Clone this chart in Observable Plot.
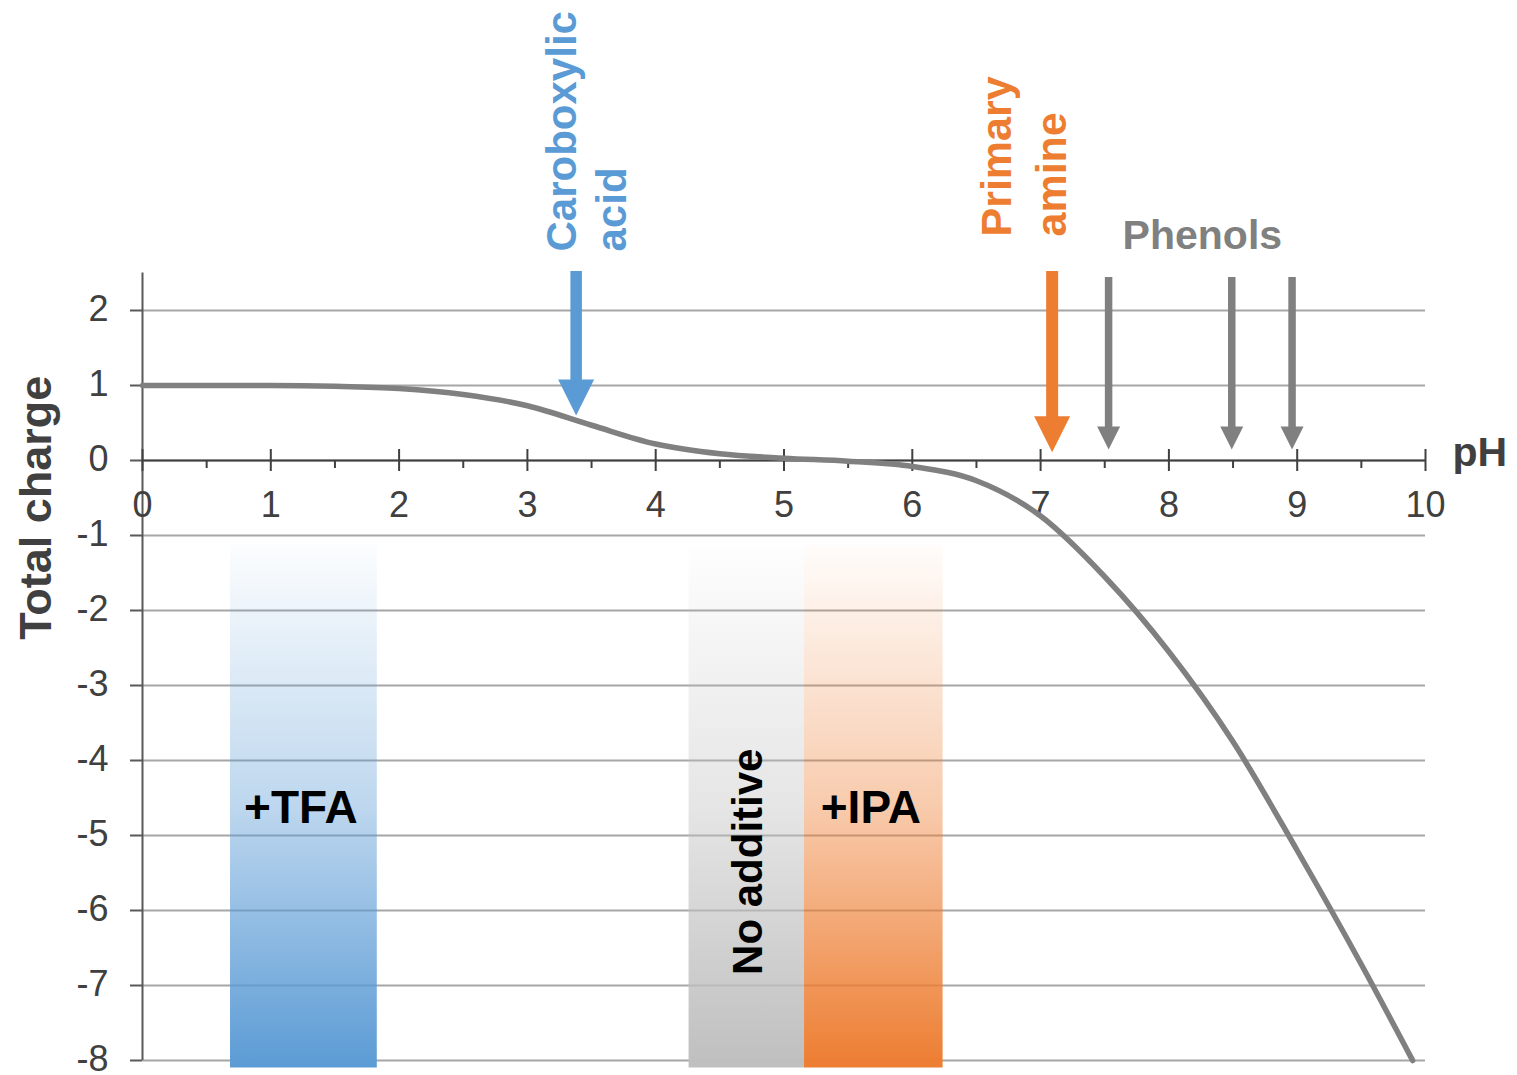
<!DOCTYPE html>
<html>
<head>
<meta charset="utf-8">
<script src="https://cdn.jsdelivr.net/npm/d3@7"></script>
<script src="https://cdn.jsdelivr.net/npm/@observablehq/plot@0.6"></script>
<style>
  html, body { margin: 0; padding: 0; background: #fff; }
  #chart svg { display: block; }
</style>
</head>
<body>
<div id="chart"></div>
<script>
// ---- Data ----
const pHValues = [0, 0.5, 1, 1.5, 2, 2.5, 3, 3.5, 4, 4.5, 5, 5.5, 6, 6.5, 7, 7.5, 8, 8.5, 9, 9.5, 9.9];
const chargeValues = [1, 1, 1, 0.99, 0.96, 0.88, 0.73, 0.47, 0.22, 0.09, 0.03, -0.01, -0.08, -0.27, -0.74, -1.55, -2.55, -3.75, -5.2, -6.72, -8];

const xTickValues = [0, 1, 2, 3, 4, 5, 6, 7, 8, 9, 10];
const xMinorTicks = [0.5, 1.5, 2.5, 3.5, 4.5, 5.5, 6.5, 7.5, 8.5, 9.5];
const yTickValues = [-8, -7, -6, -5, -4, -3, -2, -1, 0, 1, 2];

const additiveNames = ["+TFA", "No additive", "+IPA"];
const additiveFrom = [0.686, 4.26, 5.16];
const additiveTo = [1.83, 5.16, 6.24];
const additiveTop = -1.13;

const acidLabel = "Caroboxylic\nacid";
const acidPKa = [3.38];
const acidTip = [0.6];
const amineLabel = "Primary\namine";
const aminePKa = [7.09];
const amineTip = [0.11];
const phenolLabel = "Phenols";
const phenolPKa = [7.53, 8.49, 8.96];
const phenolTip = [0.147, 0.147, 0.147];

// ---- Build tables ----
const curve = pHValues.map((p, i) => ({pH: p, charge: chargeValues[i]}));
const acid = acidPKa.map((p, i) => ({pH: p, tip: acidTip[i]}));
const amine = aminePKa.map((p, i) => ({pH: p, tip: amineTip[i]}));
const phenols = phenolPKa.map((p, i) => ({pH: p, tip: phenolTip[i]}));
const boxes = additiveNames.map((name, i) => ({name, x1: additiveFrom[i], x2: additiveTo[i]}));

const BLUE = "#5B9BD5", ORANGE = "#ED7D31", GRAY = "#808080", BOXGRAY = "#BFBFBF";
const DARK = "#404040";
const FONT = "'Liberation Sans', Arial, Helvetica, sans-serif";
const gradColors = [BLUE, BOXGRAY, ORANGE];
const gradIds = ["gradTFA", "gradNone", "gradIPA"];

const downHead = {
  draw(context, size) {
    const r = Math.sqrt(size / Math.PI);
    context.moveTo(-r, -2 * r);
    context.lineTo(r, -2 * r);
    context.lineTo(0, 0);
    context.closePath();
  }
};

const defsMark = () => {
  const defs = d3.create("svg:defs");
  gradIds.forEach((id, i) => {
    const g = defs.append("linearGradient").attr("id", id)
      .attr("x1", 0).attr("x2", 0).attr("y1", 0).attr("y2", 1);
    g.append("stop").attr("offset", "0%").attr("stop-color", gradColors[i]).attr("stop-opacity", 0.02);
    g.append("stop").attr("offset", "50%").attr("stop-color", gradColors[i]).attr("stop-opacity", 0.4);
    g.append("stop").attr("offset", "100%").attr("stop-color", gradColors[i]).attr("stop-opacity", 1);
  });
  return defs.node();
};

const bold = {fontFamily: FONT, fontWeight: "bold"};

const plot = Plot.plot({
  width: 1517,
  height: 1075,
  marginLeft: 142,
  marginRight: 92,
  marginTop: 272.5,
  marginBottom: 7.5,
  x: {domain: [0, 10], axis: null},
  y: {domain: [-8.1, 2.5], axis: null},
  style: {background: "white", overflow: "visible"},
  marks: [
    defsMark,
    // gridlines
    Plot.ruleY(yTickValues, {x1: 0, x2: 10, stroke: "#A6A6A6", strokeWidth: 2}),
    // additive boxes
    ...boxes.map((b, i) => Plot.rect([b], {x1: "x1", x2: "x2", y1: additiveTop, y2: -8.1, fill: `url(#${gradIds[i]})`})),
    // y axis
    Plot.ruleX([0], {y1: -8, y2: 2.5, stroke: "#595959", strokeWidth: 2}),
    Plot.ruleY(yTickValues, {x1: 0, x2: 0, insetLeft: -12, stroke: "#595959", strokeWidth: 2}),
    Plot.text(yTickValues, {x: 0, y: d => d, dy: -1, text: d => String(d), textAnchor: "end", dx: -34,
      fontFamily: FONT, fontSize: 36, fill: DARK}),
    // x axis at y = 0
    Plot.ruleY([0], {x1: 0, x2: 10, stroke: DARK, strokeWidth: 2}),
    Plot.ruleX(xTickValues, {x: d => d, y1: 0, y2: 0, insetTop: -11, insetBottom: -11, stroke: DARK, strokeWidth: 2}),
    Plot.ruleX(xMinorTicks, {x: d => d, y1: 0, y2: 0, insetTop: 0, insetBottom: -8, stroke: DARK, strokeWidth: 2}),
    Plot.text(xTickValues, {x: d => d, y: 0, dy: 45, text: d => String(d), fontFamily: FONT, fontSize: 36, fill: DARK}),
    Plot.text(["pH"], {x: 10, y: 0, dx: 27, dy: 5, text: d => d, textAnchor: "start", lineAnchor: "bottom",
      ...bold, fontSize: 41, fill: DARK}),
    // y axis title
    Plot.text(["Total charge"], {x: 0, y: -0.63, dx: -92, text: d => d, rotate: -90, textAnchor: "middle",
      lineAnchor: "bottom", ...bold, fontSize: 45, fill: DARK}),
    // box labels
    Plot.text(boxes.filter(b => b.name !== "No additive"), {x: d => (d.x1 + d.x2) / 2, y: -4.83, dx: -3, text: "name",
      lineAnchor: "bottom", ...bold, fontSize: 46, fill: "black"}),
    Plot.text(boxes.filter(b => b.name === "No additive"), {x: d => (d.x1 + d.x2) / 2, y: -5.35, dx: 2, text: "name",
      rotate: -90, textAnchor: "middle", lineAnchor: "middle", ...bold, fontSize: 42, fill: "black"}),
    // charge curve
    Plot.line(curve, {x: "pH", y: "charge", curve: "monotone-x", stroke: GRAY, strokeWidth: 5.5}),
    // carboxylic acid arrow
    Plot.ruleX(acid, {x: "pH", y1: d => d.tip + 0.3, y2: 2.52, stroke: BLUE, strokeWidth: 11.5}),
    Plot.dot(acid, {x: "pH", y: "tip", r: 18, symbol: downHead, fill: BLUE, stroke: "none"}),
    Plot.text(acid, {x: "pH", y: 2.5, dx: 50, dy: -21.5, text: () => acidLabel, rotate: -90, textAnchor: "start",
      lineAnchor: "bottom", lineHeight: 1.19, ...bold, fontSize: 42, fill: BLUE}),
    // primary amine arrow
    Plot.ruleX(amine, {x: "pH", y1: d => d.tip + 0.3, y2: 2.52, stroke: ORANGE, strokeWidth: 12}),
    Plot.dot(amine, {x: "pH", y: "tip", r: 18, symbol: downHead, fill: ORANGE, stroke: "none"}),
    Plot.text(amine, {x: "pH", y: 2.5, dx: 14, dy: -36.5, text: () => amineLabel, rotate: -90, textAnchor: "start",
      lineAnchor: "bottom", lineHeight: 1.28, ...bold, fontSize: 43, fill: ORANGE}),
    // phenol arrows
    Plot.ruleX(phenols, {x: "pH", y1: d => d.tip + 0.2, y2: 2.44, stroke: GRAY, strokeWidth: 7.5}),
    Plot.dot(phenols, {x: "pH", y: "tip", r: 11.5, symbol: downHead, fill: GRAY, stroke: "none"}),
    Plot.text([phenolLabel], {x: phenolPKa[0], y: 2.5, dx: 14, dy: -24, text: d => d, textAnchor: "start",
      lineAnchor: "bottom", ...bold, fontSize: 41, fill: GRAY})
  ]
});

document.getElementById("chart").appendChild(plot);
</script>
</body>
</html>
